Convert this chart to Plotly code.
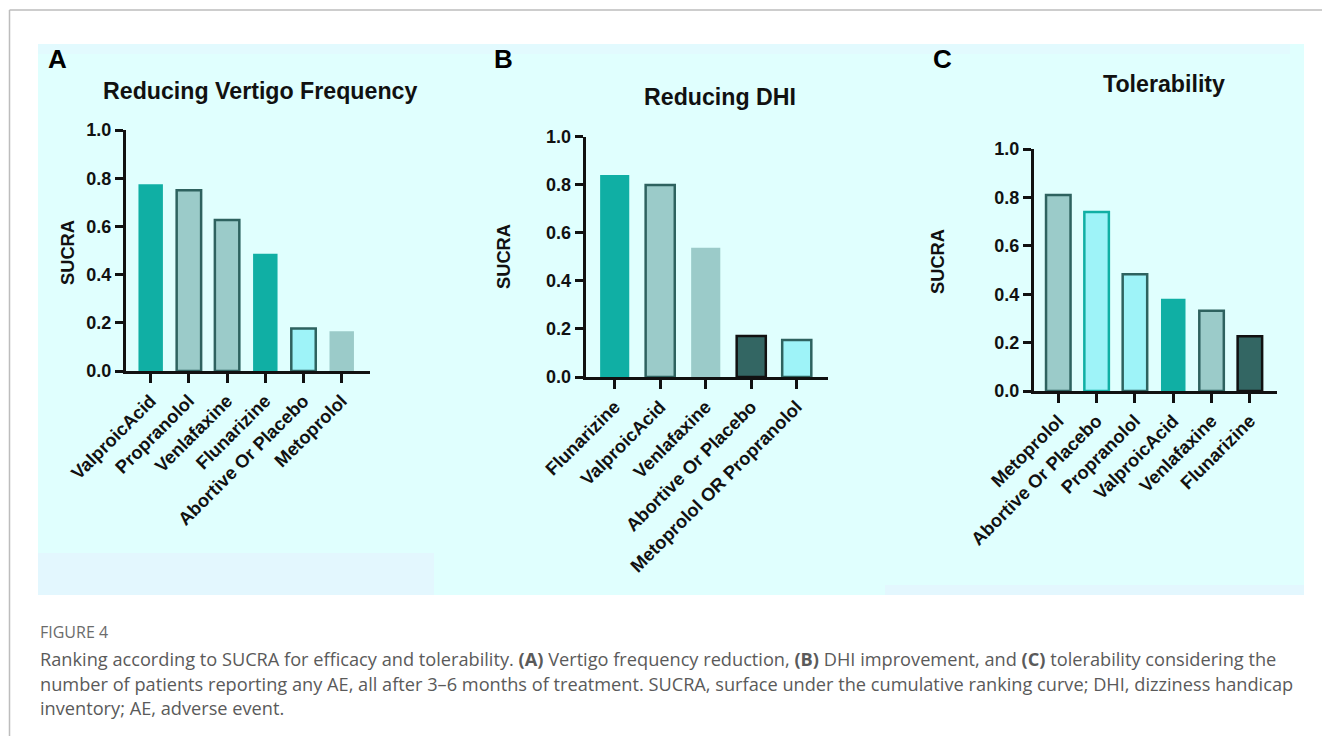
import plotly.graph_objects as go

W, H = 1322, 736

# ---------------- data ----------------
cats_a = ["ValproicAcid", "Propranolol", "Venlafaxine", "Flunarizine", "Abortive Or Placebo", "Metoprolol"]
sucra_a = [0.775, 0.750, 0.627, 0.487, 0.176, 0.165]

cats_b = ["Flunarizine", "ValproicAcid", "Venlafaxine", "Abortive Or Placebo", "Metoprolol OR Propranolol"]
sucra_b = [0.840, 0.798, 0.537, 0.170, 0.154]

cats_c = ["Metoprolol", "Abortive Or Placebo", "Propranolol", "ValproicAcid", "Venlafaxine", "Flunarizine"]
sucra_c = [0.810, 0.740, 0.482, 0.381, 0.332, 0.226]

y_ticks = [0.0, 0.2, 0.4, 0.6, 0.8, 1.0]
titles = ["Reducing Vertigo Frequency", "Reducing DHI", "Tolerability"]
panel_letters = ["A", "B", "C"]

# ---------------- styles ----------------
STY = {
    "teal": ("#10AFA4", "#10AFA4", 0),
    "grey_edge": ("#9BCBC9", "#2E625F", 2.5),
    "grey": ("#9BCBC9", "#9BCBC9", 0),
    "cyan_edge": ("#9EF3F8", "#2E625F", 2.5),
    "cyan_teal": ("#9EF3F8", "#10AFA4", 2.5),
    "dark": ("#336663", "#111111", 2.5),
}
style_a = ["teal", "grey_edge", "grey_edge", "teal", "cyan_edge", "grey"]
style_b = ["teal", "grey_edge", "grey", "dark", "cyan_edge"]
style_c = ["grey_edge", "cyan_teal", "cyan_edge", "teal", "grey_edge", "dark"]

FONT = "Liberation Sans, Arial, Helvetica, sans-serif"

def px(x):
    return x / W

def py(y):
    return 1 - y / H

# panel geometry in pixels: x-axis left/right, y for 0 and 1.0, x range
panels = [
    dict(cats=cats_a, vals=sucra_a, sty=style_a, x0=126, x1=370, y0=371, y1=130,
         xr=[-0.646, 5.74], title_xy=(259.7, 91), letter_xy=(57, 59), sucra_xy=(67, 253)),
    dict(cats=cats_b, vals=sucra_b, sty=style_b, x0=585.7, x1=827.7, y0=377, y1=136.5,
         xr=[-0.637, 4.68], title_xy=(719.5, 97), letter_xy=(503, 59), sucra_xy=(503, 257)),
    dict(cats=cats_c, vals=sucra_c, sty=style_c, x0=1034, x1=1276.7, y0=391, y1=149,
         xr=[-0.634, 5.70], title_xy=(1163.7, 84), letter_xy=(942, 59), sucra_xy=(937, 262)),
]

fig = go.Figure()
annotations = []
shapes = []

# background of the figure image
shapes.append(dict(type="rect", xref="paper", yref="paper", x0=px(38), x1=px(1304), y0=py(595), y1=py(44),
                   fillcolor="#E0FFFE", line=dict(width=0), layer="below"))
shapes.append(dict(type="rect", xref="paper", yref="paper", x0=px(38), x1=px(434), y0=py(595), y1=py(553),
                   fillcolor="#E3F7FE", line=dict(width=0), layer="below"))
shapes.append(dict(type="rect", xref="paper", yref="paper", x0=px(38), x1=px(1290), y0=py(54), y1=py(44),
                   fillcolor="#E2FAFE", line=dict(width=0), layer="below"))
shapes.append(dict(type="rect", xref="paper", yref="paper", x0=px(885), x1=px(1304), y0=py(595), y1=py(585),
                   fillcolor="#E3F7FE", line=dict(width=0), layer="below"))
# page frame lines
shapes.append(dict(type="line", xref="paper", yref="paper", x0=px(9.5), x1=px(9.5), y0=0, y1=py(10),
                   line=dict(color="#BDBDBD", width=1.5)))
shapes.append(dict(type="line", xref="paper", yref="paper", x0=px(9.5), x1=1, y0=py(10), y1=py(10),
                   line=dict(color="#BDBDBD", width=1.5)))

for i, p in enumerate(panels):
    n = i + 1
    xa = "x" if n == 1 else f"x{n}"
    ya = "y" if n == 1 else f"y{n}"
    fills = [STY[s][0] for s in p["sty"]]
    edges = [STY[s][1] for s in p["sty"]]
    lws = [STY[s][2] for s in p["sty"]]
    fig.add_trace(go.Bar(
        x=list(range(len(p["cats"]))), y=p["vals"], width=0.64,
        marker=dict(color=fills, line=dict(color=edges, width=lws)),
        xaxis=xa, yaxis=ya, showlegend=False, hoverinfo="skip",
    ))
    xkey = "xaxis" if n == 1 else f"xaxis{n}"
    ykey = "yaxis" if n == 1 else f"yaxis{n}"
    fig.update_layout(**{
        xkey: dict(
            domain=[px(p["x0"]), px(p["x1"])], anchor=ya, range=p["xr"],
            tickmode="array", tickvals=list(range(len(p["cats"]))), ticktext=p["cats"],
            tickangle=-45, showline=True, linecolor="#111111", linewidth=3,
            ticks="outside", ticklen=9, tickwidth=3, tickcolor="#111111",
            showgrid=False, zeroline=False, fixedrange=True, automargin=False,
            tickfont=dict(family=FONT, size=18.3, color="#111111", weight="bold"),
        ),
        ykey: dict(
            domain=[py(p["y0"]), py(p["y1"])], anchor=xa, range=[0, 1.0],
            tickmode="array", tickvals=y_ticks, ticktext=[f"{v:.1f}" for v in y_ticks],
            showline=True, linecolor="#111111", linewidth=3,
            ticks="outside", ticklen=8, tickwidth=3, tickcolor="#111111",
            showgrid=False, zeroline=False, fixedrange=True, automargin=False,
            tickfont=dict(family=FONT, size=18, color="#111111", weight="bold"),
        ),
    })
    tx, ty = p["title_xy"]
    annotations.append(dict(text=titles[i], x=px(tx), y=py(ty), xref="paper", yref="paper",
                            xanchor="center", yanchor="middle", showarrow=False,
                            font=dict(family=FONT, size=23.2, color="#111111", weight="bold")))
    lx, ly = p["letter_xy"]
    annotations.append(dict(text=panel_letters[i], x=px(lx), y=py(ly), xref="paper", yref="paper",
                            xanchor="center", yanchor="middle", showarrow=False,
                            font=dict(family=FONT, size=26, color="#000000", weight="bold")))
    sx, sy = p["sucra_xy"]
    annotations.append(dict(text="SUCRA", x=px(sx), y=py(sy), xref="paper", yref="paper",
                            xanchor="center", yanchor="middle", showarrow=False, textangle=-90,
                            font=dict(family=FONT, size=18.3, color="#111111", weight="bold")))

# caption
CAP_FONT = "Open Sans, Lato, sans-serif"
cap_lines = [
    "Ranking according to SUCRA for efficacy and tolerability. <b>(A)</b> Vertigo frequency reduction, <b>(B)</b> DHI improvement, and <b>(C)</b> tolerability considering the",
    "number of patients reporting any AE, all after 3–6 months of treatment. SUCRA, surface under the cumulative ranking curve; DHI, dizziness handicap",
    "inventory; AE, adverse event.",
]
annotations.append(dict(text="FIGURE 4", x=px(38), y=py(632), xref="paper", yref="paper",
                        xanchor="left", yanchor="middle", showarrow=False,
                        font=dict(family=CAP_FONT, size=16, color="#6B6B6B")))
for k, line in enumerate(cap_lines):
    annotations.append(dict(text=line, x=px(38), y=py(659 + 24.5 * k), xref="paper", yref="paper",
                            xanchor="left", yanchor="middle", showarrow=False,
                            font=dict(family=CAP_FONT, size=18.2, color="#5A5A5A")))

fig.update_layout(
    width=W, height=H, margin=dict(l=0, r=0, t=0, b=0, autoexpand=False),
    paper_bgcolor="#FFFFFF", plot_bgcolor="rgba(0,0,0,0)",
    shapes=shapes, annotations=annotations, bargap=0.35,
)

fig.write_html("out.html", config={"displayModeBar": False},
               post_script="document.body.style.margin='0';document.body.style.overflow='hidden';")
